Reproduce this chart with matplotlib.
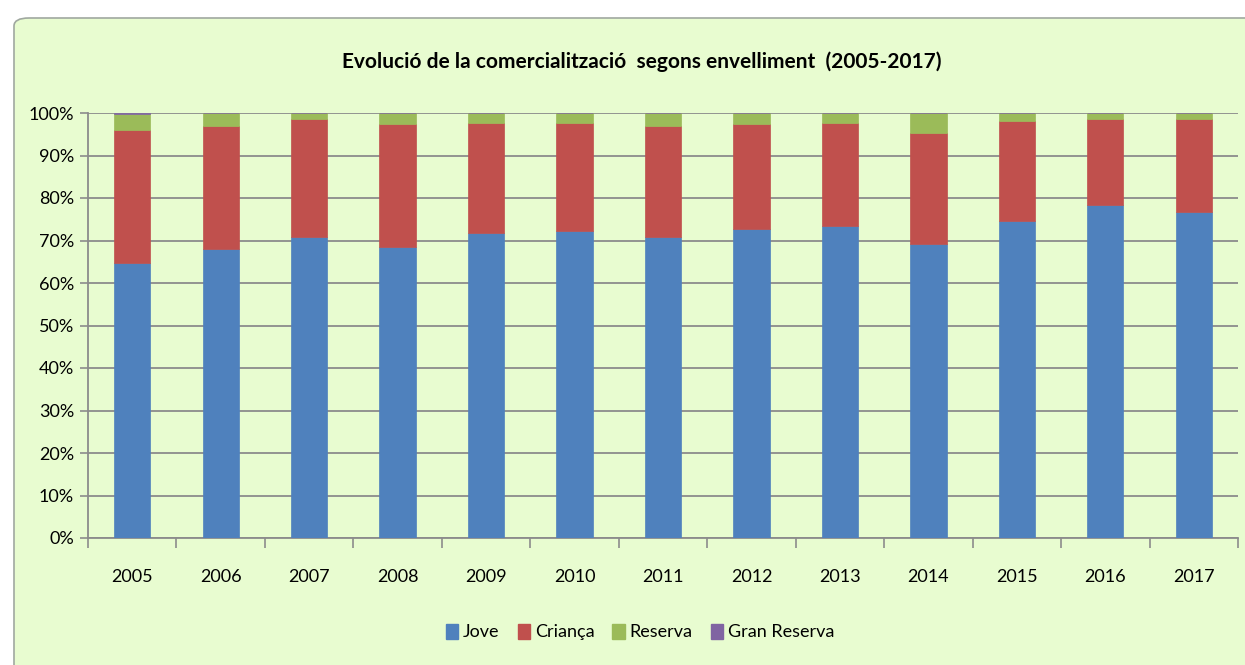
import numpy as np
import matplotlib.pyplot as plt
from matplotlib.patches import FancyBboxPatch, Patch
from matplotlib.ticker import FixedLocator, PercentFormatter

plt.rcParams['font.family'] = ['Lato', 'DejaVu Sans']

# Values (% of sales)
years = ["2005", "2006", "2007", "2008", "2009", "2010", "2011",
         "2012", "2013", "2014", "2015", "2016", "2017"]
jove = [64.6, 67.9, 70.9, 68.4, 71.7, 72.2, 70.9, 72.6, 73.4, 69.2, 74.7, 78.4, 76.8]
crianca = [31.4, 29.0, 27.6, 28.9, 26.0, 25.4, 26.0, 24.7, 24.3, 26.0, 23.4, 20.1, 21.7]
reserva = [3.8, 3.1, 1.5, 2.7, 2.3, 2.4, 3.1, 2.7, 2.3, 4.8, 1.9, 1.5, 1.5]
gran_reserva = [0.2, 0, 0, 0, 0, 0, 0, 0, 0, 0, 0, 0, 0]

series = [("Jove", jove, "#4F81BD"),
          ("Criança", crianca, "#C0504D"),
          ("Reserva", reserva, "#9BBB59"),
          ("Gran Reserva", gran_reserva, "#8064A2")]

BG = "#E8FCD0"
W, H = 1245, 665
fig = plt.figure(figsize=(W / 100, H / 100), dpi=100)
fig.patch.set_facecolor("white")

# Excel-like chart area with rounded corner
chart_bg = FancyBboxPatch((14 / W, -30 / H), (W + 20) / W, (H + 12) / H,
                          boxstyle="round,pad=0,rounding_size=0.012",
                          transform=fig.transFigure, facecolor=BG,
                          edgecolor="#A0A8A0", linewidth=1.2, zorder=-1)
fig.patches.append(chart_bg)

ax = fig.add_axes([88 / W, (H - 538) / H, 1150 / W, 425 / H])
ax.set_facecolor(BG)

x = np.arange(len(years))
bottom = np.zeros(len(years))
for name, vals, col in series:
    vals = np.array(vals)
    ax.bar(x, vals, width=0.41, bottom=bottom, color=col, zorder=3,
           edgecolor=col, linewidth=0.5)
    bottom += vals

ax.set_xlim(-0.5, len(years) - 0.5)
ax.set_ylim(0, 100)
ax.set_yticks(np.arange(0, 101, 10))
ax.yaxis.set_major_formatter(PercentFormatter(decimals=0))
ax.grid(axis="y", color="#8C8C8C", linewidth=1.3, zorder=1)

ax.set_xticks(x)
ax.set_xticklabels(years)
ax.xaxis.set_minor_locator(FixedLocator(np.arange(-0.5, len(years), 1)))
ax.tick_params(axis="x", which="major", length=0, pad=22, labelsize=13)
ax.tick_params(axis="x", which="minor", length=7, color="#8C8C8C", width=1.2)
ax.tick_params(axis="y", length=6, color="#8C8C8C", width=1.2, labelsize=13, pad=4)

for s in ["top", "right"]:
    ax.spines[s].set_visible(False)
for s in ["left", "bottom"]:
    ax.spines[s].set_color("#8C8C8C")
    ax.spines[s].set_linewidth(1.3)

fig.text(642 / W, 1 - 62 / H, "Evolució de la comercialització  segons envelliment  (2005-2017)",
         ha="center", va="center", fontsize=15, fontweight="bold")

handles = [Patch(facecolor=col, edgecolor=col, label=name) for name, _, col in series]
fig.legend(handles=handles, loc="center", bbox_to_anchor=(640 / W, 1 - 632 / H),
           ncol=4, frameon=False, fontsize=13, handlelength=0.7, handleheight=0.9,
           handletextpad=0.25, columnspacing=1.0)

fig.savefig("out.png", dpi=100, facecolor=fig.get_facecolor())
